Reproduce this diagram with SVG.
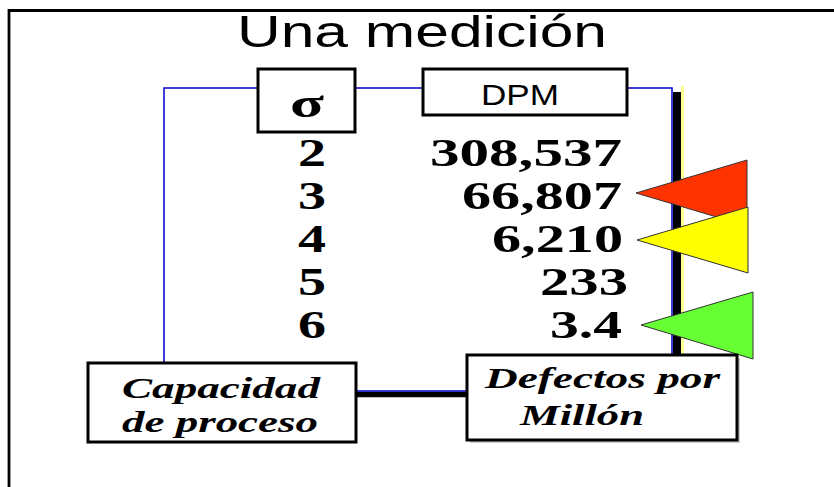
<svg xmlns="http://www.w3.org/2000/svg" width="834" height="487" viewBox="0 0 834 487">
<style>
.box{fill:#fff;stroke:#000;stroke-width:3}
.num{font-family:"Liberation Serif",serif;font-weight:bold;font-size:40px;fill:#000}
.lbl{font-family:"Liberation Serif",serif;font-weight:bold;font-style:italic;font-size:29px;fill:#000}
.blue{fill:none;stroke:#0000CC;stroke-width:1.5}
.flag{stroke:#333;stroke-width:1}
</style>
<rect width="834" height="487" fill="#fff"/>
<path d="M9,487 V10.5 H834" fill="none" stroke="#000" stroke-width="2.8"/>
<text x="237" y="47" font-family="Liberation Sans, Arial, sans-serif" font-size="45" textLength="370" lengthAdjust="spacingAndGlyphs">Una medición</text>
<g id="connectors">
<line x1="682.5" y1="86" x2="682.5" y2="355" stroke="#FFFF99" stroke-width="3"/>
<line x1="677" y1="92" x2="677" y2="355" stroke="#000" stroke-width="8"/>
<path class="blue" d="M164,363 V88 H258 M355,88 H423 M627,88 H672 V355"/>
<line x1="356" y1="394.5" x2="467" y2="394.5" stroke="#000" stroke-width="5.5"/>
<line x1="356" y1="391" x2="467" y2="391" stroke="#0000CC" stroke-width="1.5"/>
</g>
<g id="sigma">
<rect class="box" x="258" y="69" width="97" height="63"/>
<text x="290" y="117" class="num" font-size="42" textLength="34" lengthAdjust="spacingAndGlyphs">σ</text>
</g>
<g id="dpm">
<rect class="box" x="423" y="69" width="204" height="46"/>
<text x="481" y="105" font-family="Liberation Sans, Arial, sans-serif" font-size="30" textLength="78" lengthAdjust="spacingAndGlyphs">DPM</text>
</g>
<g id="table">
<text class="num" x="298" y="166" textLength="28" lengthAdjust="spacingAndGlyphs">2</text>
<text class="num" x="298" y="209" textLength="28" lengthAdjust="spacingAndGlyphs">3</text>
<text class="num" x="298" y="252" textLength="28" lengthAdjust="spacingAndGlyphs">4</text>
<text class="num" x="298" y="295" textLength="28" lengthAdjust="spacingAndGlyphs">5</text>
<text class="num" x="298" y="338" textLength="28" lengthAdjust="spacingAndGlyphs">6</text>
<text class="num" x="430" y="166" textLength="192" lengthAdjust="spacingAndGlyphs">308,537</text>
<text class="num" x="462" y="209" textLength="160" lengthAdjust="spacingAndGlyphs">66,807</text>
<text class="num" x="492" y="252" textLength="131" lengthAdjust="spacingAndGlyphs">6,210</text>
<text class="num" x="540" y="295" textLength="88" lengthAdjust="spacingAndGlyphs">233</text>
<text class="num" x="550" y="338" textLength="72" lengthAdjust="spacingAndGlyphs">3.4</text>
</g>
<g id="flags">
<polygon class="flag" fill="#FF3300" points="636,193 747,160 747,226"/>
<polygon class="flag" fill="#FFFF00" points="637,240 748,207 748,273"/>
<polygon class="flag" fill="#66FF33" points="641,325 753,292 753,359"/>
</g>
<g id="capacidad">
<rect class="box" x="88" y="363" width="268" height="79"/>
<text class="lbl" x="122" y="398" textLength="198" lengthAdjust="spacingAndGlyphs">Capacidad</text>
<text class="lbl" x="122" y="432" textLength="196" lengthAdjust="spacingAndGlyphs">de proceso</text>
</g>
<g id="defectos">
<rect x="470" y="358" width="270" height="85" fill="#999" opacity="0.5"/>
<rect class="box" x="467" y="355" width="270" height="85" stroke-width="4.5"/>
<text class="lbl" x="485" y="388" textLength="235" lengthAdjust="spacingAndGlyphs">Defectos por</text>
<text class="lbl" x="520" y="425" textLength="124" lengthAdjust="spacingAndGlyphs">Millón</text>
</g>
</svg>
